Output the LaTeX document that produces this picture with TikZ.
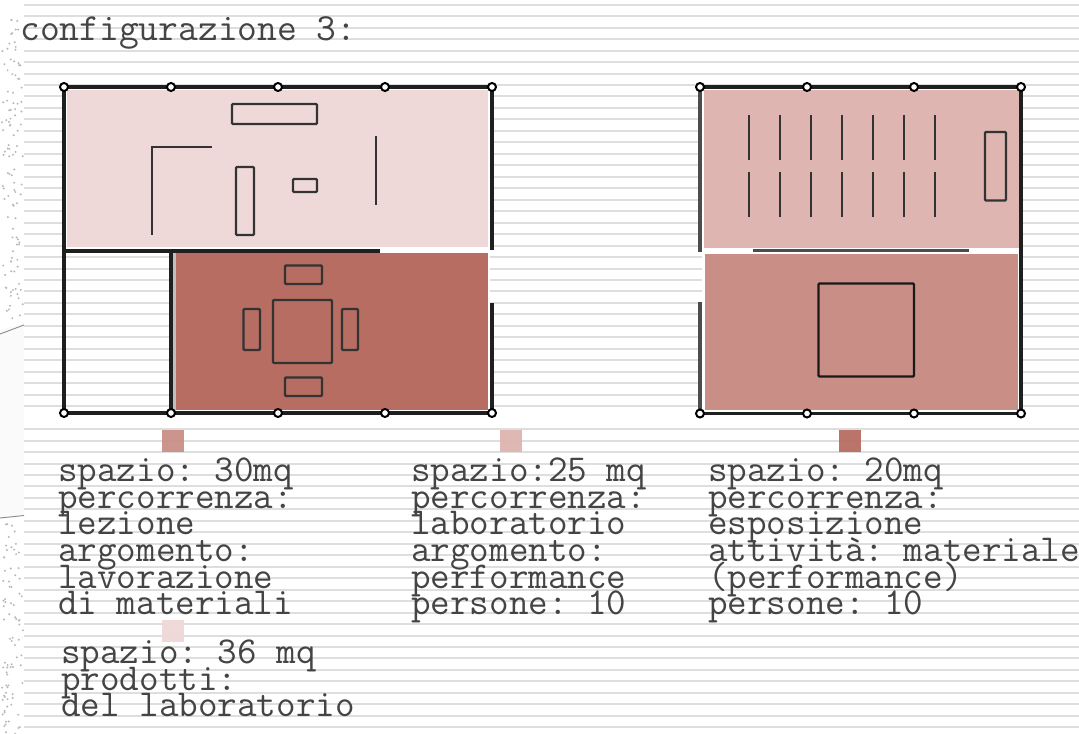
\documentclass[tikz,border=0pt]{standalone}
\usepackage{fontspec}
\definecolor{pinkA}{HTML}{EFD9D8}
\definecolor{pinkB}{HTML}{DEB5B0}
\definecolor{pinkC}{HTML}{C98F86}
\definecolor{pinkD}{HTML}{B76D61}
\definecolor{bgline}{HTML}{DEDEDE}
\definecolor{ink}{HTML}{444444}
\newcommand{\blockfont}{\fontsize{28.5pt}{20pt}\selectfont\ttfamily\frenchspacing\lineskiplimit=-1000pt\relax}
\newcommand{\titlefont}{\fontsize{28.8pt}{20pt}\selectfont\ttfamily}
\tikzset{
  wallline/.style={draw=black!88,line width=2.4pt},
  softwall/.style={draw=black!70,line width=2.4pt},
  furn/.style={draw=black!80,line width=1.75pt,rounded corners=0.8pt},
  handle/.style={circle,draw=black,fill=white,line width=1.5pt,minimum size=6pt,inner sep=0pt},
  swatch/.style={inner sep=0pt,minimum size=16.5pt,draw=none,fill opacity=0.95},
  textblock/.style={anchor=base west,inner sep=0pt,text=ink,font=\blockfont},
}
\begin{document}
\begin{tikzpicture}[x=0.75pt,y=-0.75pt]
\useasboundingbox (0,0) rectangle (1079,734);
\fill[white] (0,0) rectangle (1079,734);
% left margin
\fill[black!2] (0,330) -- (24,323) -- (24,516) -- (0,519) -- cycle;
\draw[black!45,line width=0.7pt] (0,334) -- (24,325);
\draw[black!45,line width=0.7pt] (0,518) -- (24,515.5);
\pgfmathsetseed{7}
\foreach \i in {1,...,190}{
  \pgfmathsetmacro{\dx}{2+21*rnd}
  \pgfmathsetmacro{\dy}{rnd<0.6 ? 18+305*rnd : 522+212*rnd}
  \fill[black!28] (\dx,\dy) circle[radius=1.1];
}
% ruled background
\foreach \n in {0,...,63}{
  \ifnum\n=36\relax\else
  \pgfmathsetmacro{\yy}{4.7+11.47*\n}
  \draw[bgline,line width=1.5pt] (24,\yy) -- (1079,\yy);
  \fi
}
% white halos
\fill[white] (65,88) rectangle (490,253);
\fill[white] (172,253) rectangle (490,412);
\fill[white] (702,88) rectangle (1020,412);
% fills
\fill[pinkA] (67,90) rectangle (488,247);
\fill[pinkD] (175,253) rectangle (488,410);
\fill[pinkB] (704,90) rectangle (1019,248);
\fill[pinkC] (705,254) rectangle (1018,410);
% plan 1 walls
\draw[wallline] (64,87) -- (492,87);
\draw[wallline] (64,413) -- (492,413);
\draw[wallline] (64,87) -- (64,413);
\draw[wallline] (492,87) -- (492,250);
\draw[wallline] (492,303) -- (492,413);
\draw[wallline] (64,251) -- (380,251);
\draw[black!25,line width=2.4pt] (174,253) -- (174,411);
\draw[wallline] (171,251) -- (171,413);
% plan 1 furniture
\draw[furn] (232,104) rectangle (317,124);
\draw[furn,rounded corners=0pt] (152,235) -- (152,147) -- (212,147);
\draw[furn] (236,167) rectangle (254,235);
\draw[furn] (293,179) rectangle (317,192);
\draw[furn] (376,136) -- (376,205);
\draw[furn] (285,265.5) rectangle (322,284);
\draw[furn] (273,300) rectangle (332,363);
\draw[furn] (243.5,309) rectangle (260,350);
\draw[furn] (342,309) rectangle (358,350);
\draw[furn] (285,377.5) rectangle (322,396);
% plan 2 walls
\draw[wallline] (700,87) -- (1021,87);
\draw[wallline] (700,413.5) -- (1021,413.5);
\draw[softwall] (700,87) -- (700,252);
\draw[softwall] (700,302) -- (700,413.5);
\draw[wallline] (1021,87) -- (1021,413.5);
\draw[softwall] (753,250.5) -- (969,250.5);
% plan 2 furniture
\foreach \lx in {749,780,811,842.3,873.3,904.3,935.3}{
  \draw[furn] (\lx,115) -- (\lx,160);
  \draw[furn] (\lx,172) -- (\lx,217);
}
\draw[furn] (985,132) rectangle (1006,200.5);
\draw[furn,draw=black!90] (818.5,283.5) rectangle (914,376.5);
% handles
\foreach \hx/\hn in {64/a,171/b,278/c,385/d,492/e}{
  \node[handle] (t\hn) at (\hx,87) {};
  \node[handle] (u\hn) at (\hx,413) {};
}
\foreach \hx/\hn in {700/a,807/b,914/c,1021/d}{
  \node[handle] (v\hn) at (\hx,87) {};
  \node[handle] (w\hn) at (\hx,413.5) {};
}
% swatches
\node[swatch,fill=pinkC] (s1) at (173,441) {};
\node[swatch,fill=pinkB] (s2) at (511,441) {};
\node[swatch,fill=pinkD] (s3) at (850,441) {};
\node[swatch,fill=pinkA] (s4) at (173,631) {};
% text
\node[textblock,font=\titlefont] (title) at (20,40.5) {configurazione 3:};
\node[textblock] (b1) at (58,481.5) {\vtop{\hbox{spazio: 30mq}\hbox{percorrenza:}\hbox{lezione}\hbox{argomento:}\hbox{lavorazione}\hbox{di materiali}}};
\node[textblock] (b2) at (411,481.5) {\vtop{\hbox{spazio:25 mq}\hbox{percorrenza:}\hbox{laboratorio}\hbox{argomento:}\hbox{performance}\hbox{persone: 10}}};
\node[textblock] (b3) at (708,481.5) {\vtop{\hbox{spazio: 20mq}\hbox{percorrenza:}\hbox{esposizione}\hbox{attività: materiale}\hbox{(performance)}\hbox{persone: 10}}};
\node[textblock] (b4) at (61,663.5) {\vtop{\hbox{spazio: 36 mq}\hbox{prodotti:}\hbox{del laboratorio}}};
\end{tikzpicture}
\end{document}
